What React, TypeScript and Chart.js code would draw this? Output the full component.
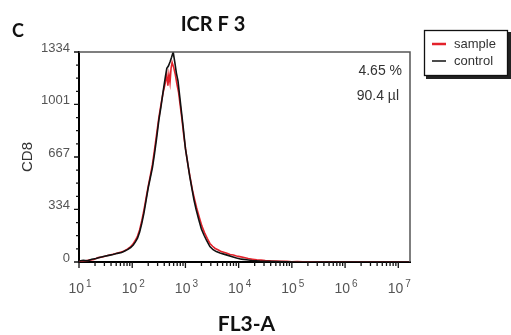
import React, { useEffect, useRef } from "react";
import { Chart, registerables } from "chart.js";

Chart.register(...registerables);

const PANEL = "C";
const TITLE = "ICR F 3";
const X_TITLE = "FL3-A";
const Y_TITLE = "CD8";
const Y_TICKS = [0, 334, 667, 1001, 1334];
const X_DECADES = [1, 2, 3, 4, 5, 6, 7];
const X_MIN = 1;
const X_MAX = 7.22;
const SERIES_NAMES = ["sample", "control"];
const SERIES_COLORS = ["#e3222b", "#111111"];
const ANNOTATIONS = ["4.65 %", "90.4 µl"];

// x values are log10(FL3-A)
const controlLog = [
  1.0, 1.08, 1.16, 1.24, 1.32, 1.4, 1.48, 1.56, 1.64, 1.72, 1.8, 1.86, 1.92, 1.97, 2.02, 2.06,
  2.1, 2.14, 2.18, 2.22, 2.26, 2.3, 2.34, 2.38, 2.42, 2.46, 2.5, 2.54, 2.58, 2.62, 2.65, 2.68,
  2.71, 2.74, 2.77, 2.8, 2.83, 2.86, 2.89, 2.92, 2.96, 3.0, 3.04, 3.08, 3.12, 3.16, 3.2, 3.25,
  3.3, 3.35, 3.4, 3.46, 3.52, 3.58, 3.65, 3.72, 3.8, 3.88, 3.96, 4.05, 4.15, 4.25, 4.4, 4.55,
  4.7, 4.9, 5.1, 7.22,
];
const controlCount = [
  6, 10, 8, 18, 22, 30, 36, 42, 48, 55, 60, 70, 80, 92, 108, 128,
  152, 190, 245, 310, 390, 470, 535, 600, 690, 790, 900, 985, 1080, 1170, 1230, 1245,
  1270, 1300, 1334, 1270, 1200, 1150, 1060, 970, 850, 720, 635, 545, 470, 395, 335, 270,
  210, 170, 135, 98, 78, 66, 57, 50, 42, 34, 25, 18, 14, 10, 6, 4,
  3, 1, 0, 0,
];

const sampleLog = [
  1.0, 1.1, 1.2, 1.28, 1.36, 1.44, 1.52, 1.6, 1.68, 1.76, 1.84, 1.9, 1.96, 2.01, 2.06, 2.1,
  2.14, 2.18, 2.22, 2.26, 2.3, 2.34, 2.38, 2.42, 2.46, 2.5, 2.54, 2.58, 2.62, 2.65, 2.67, 2.69,
  2.71, 2.73, 2.75, 2.78, 2.81, 2.84, 2.87, 2.9, 2.93, 2.97, 3.01, 3.05, 3.09, 3.13, 3.17, 3.21,
  3.26, 3.31, 3.36, 3.41, 3.46, 3.51, 3.56, 3.61, 3.66, 3.72, 3.78, 3.84, 3.9, 3.96, 4.02, 4.1,
  4.18, 4.26, 4.34, 4.42, 4.5, 4.6, 4.7, 4.8, 4.9, 5.0, 5.1, 5.2, 5.35, 5.5, 7.22,
];
const sampleCount = [
  3, 6, 12, 16, 28, 32, 40, 46, 52, 60, 68, 80, 94, 112, 138, 165,
  205, 262, 330, 405, 480, 548, 620, 715, 815, 915, 1000, 1075, 1135, 1190, 1120, 1190,
  1140, 1230, 1268, 1235, 1190, 1130, 1080, 1000, 920, 800, 700, 610, 535, 460, 400, 345,
  285, 228, 185, 150, 118, 100, 86, 78, 68, 62, 55, 48, 44, 38, 34, 28,
  22, 18, 14, 12, 9, 7, 6, 4, 5, 2, 3, 1, 2, 0, 0,
];

const SANS = "'Liberation Sans', Arial, sans-serif";
const BOLD = "Lato, 'Open Sans', sans-serif";

export default function App() {
  const ref = useRef<HTMLCanvasElement>(null);

  useEffect(() => {
    if (!ref.current) return;

    const decor = {
      id: "decor",
      afterDraw(chart: any) {
        const { ctx, chartArea: a, scales } = chart;
        const xs = scales.x;
        const ys = scales.y;
        ctx.save();

        // top and right frame
        ctx.strokeStyle = "#555";
        ctx.lineWidth = 1.5;
        ctx.beginPath();
        ctx.moveTo(a.left, a.top);
        ctx.lineTo(a.right, a.top);
        ctx.lineTo(a.right, a.bottom);
        ctx.stroke();

        // y tick marks
        ctx.strokeStyle = "#111";
        ctx.lineWidth = 1.3;
        ctx.beginPath();
        for (let i = 0; i < Y_TICKS.length; i++) {
          const py = ys.getPixelForValue(Y_TICKS[i]);
          ctx.moveTo(a.left - 5, py);
          ctx.lineTo(a.left, py);
          if (i < Y_TICKS.length - 1) {
            for (let k = 1; k < 4; k++) {
              const v = Y_TICKS[i] + ((Y_TICKS[i + 1] - Y_TICKS[i]) * k) / 4;
              const pm = ys.getPixelForValue(v);
              ctx.moveTo(a.left - 3, pm);
              ctx.lineTo(a.left, pm);
            }
          }
        }
        // x tick marks
        for (const d of X_DECADES) {
          const px = xs.getPixelForValue(d);
          ctx.moveTo(px, a.bottom);
          ctx.lineTo(px, a.bottom + 6);
          for (let k = 2; k <= 9; k++) {
            const v = d + Math.log10(k);
            if (v > X_MAX) break;
            const pm = xs.getPixelForValue(v);
            ctx.moveTo(pm, a.bottom);
            ctx.lineTo(pm, a.bottom + 4);
          }
        }
        ctx.stroke();

        // x tick labels: 10^n
        ctx.fillStyle = "#555";
        ctx.textBaseline = "alphabetic";
        ctx.textAlign = "left";
        for (const t of xs.ticks) {
          const px = xs.getPixelForValue(t.value);
          const base = "10";
          const sup = String(t.value);
          ctx.font = `14px ${SANS}`;
          const w1 = ctx.measureText(base).width;
          ctx.font = `10px ${SANS}`;
          const w2 = ctx.measureText(sup).width;
          const gap = 2;
          const x0 = px - (w1 + gap + w2) / 2 + 1;
          ctx.font = `14px ${SANS}`;
          ctx.fillText(base, x0, 293);
          ctx.font = `10px ${SANS}`;
          ctx.fillText(sup, x0 + w1 + gap, 287);
        }

        // panel letter and title
        ctx.fillStyle = "#111";
        ctx.font = `bold 18px ${BOLD}`;
        ctx.textAlign = "left";
        ctx.fillText(PANEL, 12, 37);
        ctx.font = `bold 20px ${BOLD}`;
        ctx.textAlign = "center";
        ctx.fillText(TITLE, 213, 31);

        // x axis title
        ctx.font = `bold 21px ${BOLD}`;
        ctx.textAlign = "center";
        ctx.fillText(X_TITLE, (a.left + a.right) / 2 + 2, 331);

        // y axis title
        ctx.save();
        ctx.translate(28, (a.top + a.bottom) / 2);
        ctx.rotate(-Math.PI / 2);
        ctx.font = `15px ${SANS}`;
        ctx.fillStyle = "#333";
        ctx.textAlign = "center";
        ctx.textBaseline = "middle";
        ctx.fillText(Y_TITLE, 0, 0);
        ctx.restore();

        // annotations
        ctx.fillStyle = "#333";
        ctx.font = `14px ${SANS}`;
        ctx.textAlign = "right";
        ctx.fillText(ANNOTATIONS[0], 402, 75);
        ctx.fillText(ANNOTATIONS[1], 399, 100);

        // legend box
        ctx.fillStyle = "#222";
        ctx.fillRect(426, 32, 85, 47);
        ctx.fillStyle = "#fff";
        ctx.fillRect(424, 30, 84, 46);
        ctx.strokeStyle = "#111";
        ctx.lineWidth = 1.3;
        ctx.strokeRect(424.5, 30.5, 83, 45);
        const rows = [44, 61];
        ctx.textAlign = "left";
        ctx.font = `13px ${SANS}`;
        for (let i = 0; i < SERIES_NAMES.length; i++) {
          ctx.strokeStyle = SERIES_COLORS[i];
          ctx.lineWidth = i === 0 ? 2.5 : 1.5;
          ctx.beginPath();
          ctx.moveTo(432, rows[i]);
          ctx.lineTo(446, rows[i]);
          ctx.stroke();
          ctx.fillStyle = "#333";
          ctx.fillText(SERIES_NAMES[i], 454, rows[i] + 4);
        }

        ctx.restore();
      },
    };

    const chart = new Chart(ref.current, {
      type: "line",
      data: {
        datasets: [
          {
            label: SERIES_NAMES[0],
            data: sampleLog.map((x, i) => ({ x, y: sampleCount[i] })),
            borderColor: SERIES_COLORS[0],
            borderWidth: 1.6,
            pointRadius: 0,
            tension: 0,
            fill: false,
            order: 2,
          },
          {
            label: SERIES_NAMES[1],
            data: controlLog.map((x, i) => ({ x, y: controlCount[i] })),
            borderColor: SERIES_COLORS[1],
            borderWidth: 1.6,
            pointRadius: 0,
            tension: 0,
            fill: false,
            order: 1,
          },
        ],
      },
      options: {
        responsive: false,
        animation: false,
        devicePixelRatio: 1,
        layout: { padding: { left: 0, top: 52, right: 101, bottom: 0 } },
        plugins: {
          legend: { display: false },
          title: { display: false },
          tooltip: { enabled: false },
        },
        scales: {
          x: {
            type: "linear",
            min: X_MIN,
            max: X_MAX,
            grid: { display: false, drawTicks: false },
            border: { display: true, color: "#000", width: 2 },
            ticks: { display: false },
            afterBuildTicks: (s: any) => {
              s.ticks = X_DECADES.map((v) => ({ value: v }));
            },
            afterFit: (s: any) => {
              s.height = 73;
            },
          },
          y: {
            type: "linear",
            min: 0,
            max: 1334,
            grid: { display: false, drawTicks: false },
            border: { display: true, color: "#000", width: 2 },
            afterBuildTicks: (s: any) => {
              s.ticks = Y_TICKS.map((v) => ({ value: v }));
            },
            afterFit: (s: any) => {
              s.width = 79;
            },
            ticks: {
              padding: 9,
              labelOffset: -4,
              color: "#555",
              font: { family: SANS, size: 13 },
              callback: (v: any) => String(v),
            },
          },
        },
      },
      plugins: [decor],
    });

    return () => chart.destroy();
  }, []);

  return (
    <div style={{ position: "fixed", left: 0, top: 0, width: 511, height: 335, background: "#fff" }}>
      <canvas ref={ref} width={511} height={335} style={{ width: 511, height: 335, display: "block" }} />
    </div>
  );
}
